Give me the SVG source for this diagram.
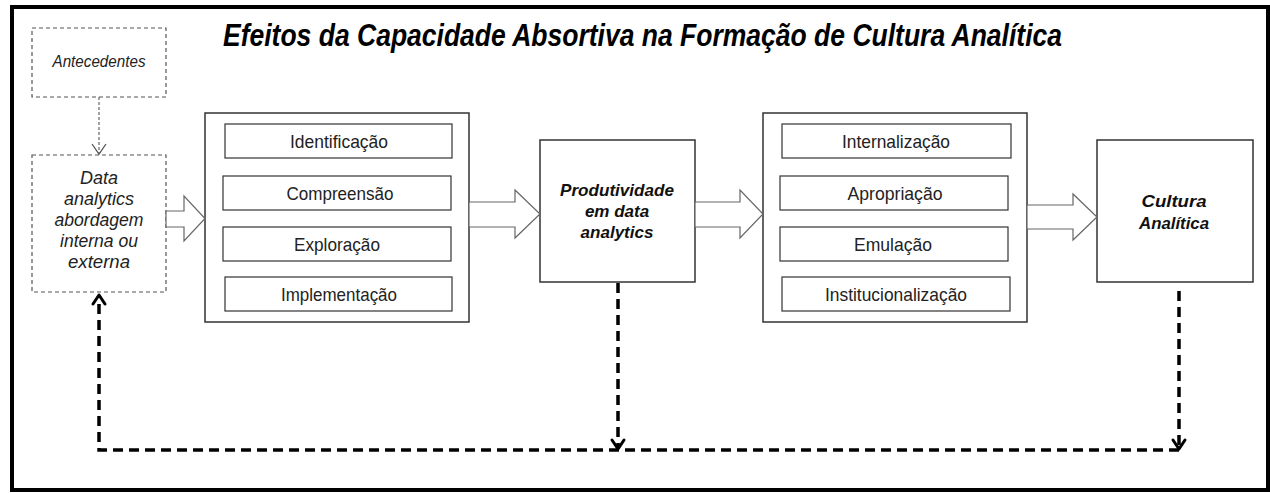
<svg xmlns="http://www.w3.org/2000/svg" width="1270" height="493" viewBox="0 0 1270 493">
<style>
.frame{fill:#fff;stroke:#000;stroke-width:4}
.dash{fill:#fff;stroke:#555;stroke-width:1.2;stroke-dasharray:4 3}
.big{fill:#fff;stroke:#333;stroke-width:1.5}
.inner{fill:#fff;stroke:#333;stroke-width:1.2}
.blk{fill:#fff;stroke:#666;stroke-width:1.2}
.t{font-family:"Liberation Sans",Arial,sans-serif;fill:#222;text-anchor:middle}
.reg{font-size:19px}
.it{font-size:18px;font-style:italic}
.bi{font-size:17px;font-style:italic;font-weight:bold;fill:#111}
.title{font-family:"Liberation Sans",Arial,sans-serif;font-size:32px;font-style:italic;font-weight:bold;fill:#000}
.fb{fill:none;stroke:#000;stroke-width:3.5;stroke-dasharray:10 6}
.head{fill:none;stroke:#000;stroke-width:3;stroke-linecap:round;stroke-linejoin:round}
</style>
<rect class="frame" x="12" y="7" width="1256" height="483"/>
<text class="title" x="223" y="46" textLength="839" lengthAdjust="spacingAndGlyphs">Efeitos da Capacidade Absortiva na Formação de Cultura Analítica</text>

<g id="antecedentes">
<rect class="dash" x="32" y="28" width="134" height="69"/>
<text class="t it" x="99" y="67" style="font-size:16px" textLength="93" lengthAdjust="spacingAndGlyphs">Antecedentes</text>
</g>

<g id="data-analytics">
<rect class="dash" x="32" y="155" width="134" height="137"/>
<text class="t it" x="99" y="184">Data</text>
<text class="t it" x="99" y="205" textLength="70" lengthAdjust="spacingAndGlyphs">analytics</text>
<text class="t it" x="99" y="226" textLength="89" lengthAdjust="spacingAndGlyphs">abordagem</text>
<text class="t it" x="99" y="247" textLength="78" lengthAdjust="spacingAndGlyphs">interna ou</text>
<text class="t it" x="99" y="268" textLength="62" lengthAdjust="spacingAndGlyphs">externa</text>
</g>

<g id="absorcao">
<rect class="big" x="205" y="113" width="264" height="209"/>
<rect class="inner" x="225" y="124" width="227" height="34"/>
<text class="t reg" x="339" y="148" textLength="98" lengthAdjust="spacingAndGlyphs">Identificação</text>
<rect class="inner" x="223" y="176" width="228" height="34"/>
<text class="t reg" x="340" y="200" textLength="107" lengthAdjust="spacingAndGlyphs">Compreensão</text>
<rect class="inner" x="223" y="227" width="228" height="34"/>
<text class="t reg" x="337" y="251" textLength="86" lengthAdjust="spacingAndGlyphs">Exploração</text>
<rect class="inner" x="225" y="277" width="227" height="34"/>
<text class="t reg" x="339" y="301" textLength="116" lengthAdjust="spacingAndGlyphs">Implementação</text>
</g>

<g id="produtividade">
<rect class="big" x="540" y="140" width="155" height="142"/>
<text class="t bi" x="617" y="196" textLength="114" lengthAdjust="spacingAndGlyphs">Produtividade</text>
<text class="t bi" x="617" y="217">em data</text>
<text class="t bi" x="617" y="238">analytics</text>
</g>

<g id="cultura-processo">
<rect class="big" x="763" y="113" width="264" height="209"/>
<rect class="inner" x="782" y="124" width="229" height="34"/>
<text class="t reg" x="896" y="148" textLength="108" lengthAdjust="spacingAndGlyphs">Internalização</text>
<rect class="inner" x="780" y="176" width="228" height="34"/>
<text class="t reg" x="895" y="200" textLength="95" lengthAdjust="spacingAndGlyphs">Apropriação</text>
<rect class="inner" x="780" y="227" width="228" height="34"/>
<text class="t reg" x="893" y="251" textLength="78" lengthAdjust="spacingAndGlyphs">Emulação</text>
<rect class="inner" x="782" y="277" width="228" height="34"/>
<text class="t reg" x="896" y="301" textLength="142" lengthAdjust="spacingAndGlyphs">Institucionalização</text>
</g>

<g id="cultura-analitica">
<rect class="big" x="1097" y="140" width="156" height="142"/>
<text class="t bi" x="1174" y="207" textLength="65" lengthAdjust="spacingAndGlyphs">Cultura</text>
<text class="t bi" x="1174" y="229" textLength="70" lengthAdjust="spacingAndGlyphs">Analítica</text>
</g>

<g id="connectors">
<path d="M99 97 V153" fill="none" stroke="#666" stroke-width="1.2" stroke-dasharray="3 2"/>
<path d="M92 144 L99 154 L106 144" fill="none" stroke="#555" stroke-width="1.3"/>
<path class="blk" d="M166 211 H184 V196 L205 218.5 L184 241 V227 H166 Z"/>
<path class="blk" d="M469 202 H515 V190 L540 214 L515 238 V227 H469 Z"/>
<path class="blk" d="M695 202 H740 V190 L763 214 L740 238 V227 H695 Z"/>
<path class="blk" d="M1027 205 H1073 V194 L1097 217 L1073 240 V229 H1027 Z"/>
<path class="fb" d="M618 283 V449"/>
<path class="fb" d="M1179 291 V449"/>
<path class="fb" d="M1179 450 H99 V296"/>
<path class="head" d="M612 440 L618 449 L624 440"/>
<path class="head" d="M1173 440 L1179 449 L1185 440"/>
<path class="head" d="M93 304 L99 295 L105 304"/>
</g>
</svg>
